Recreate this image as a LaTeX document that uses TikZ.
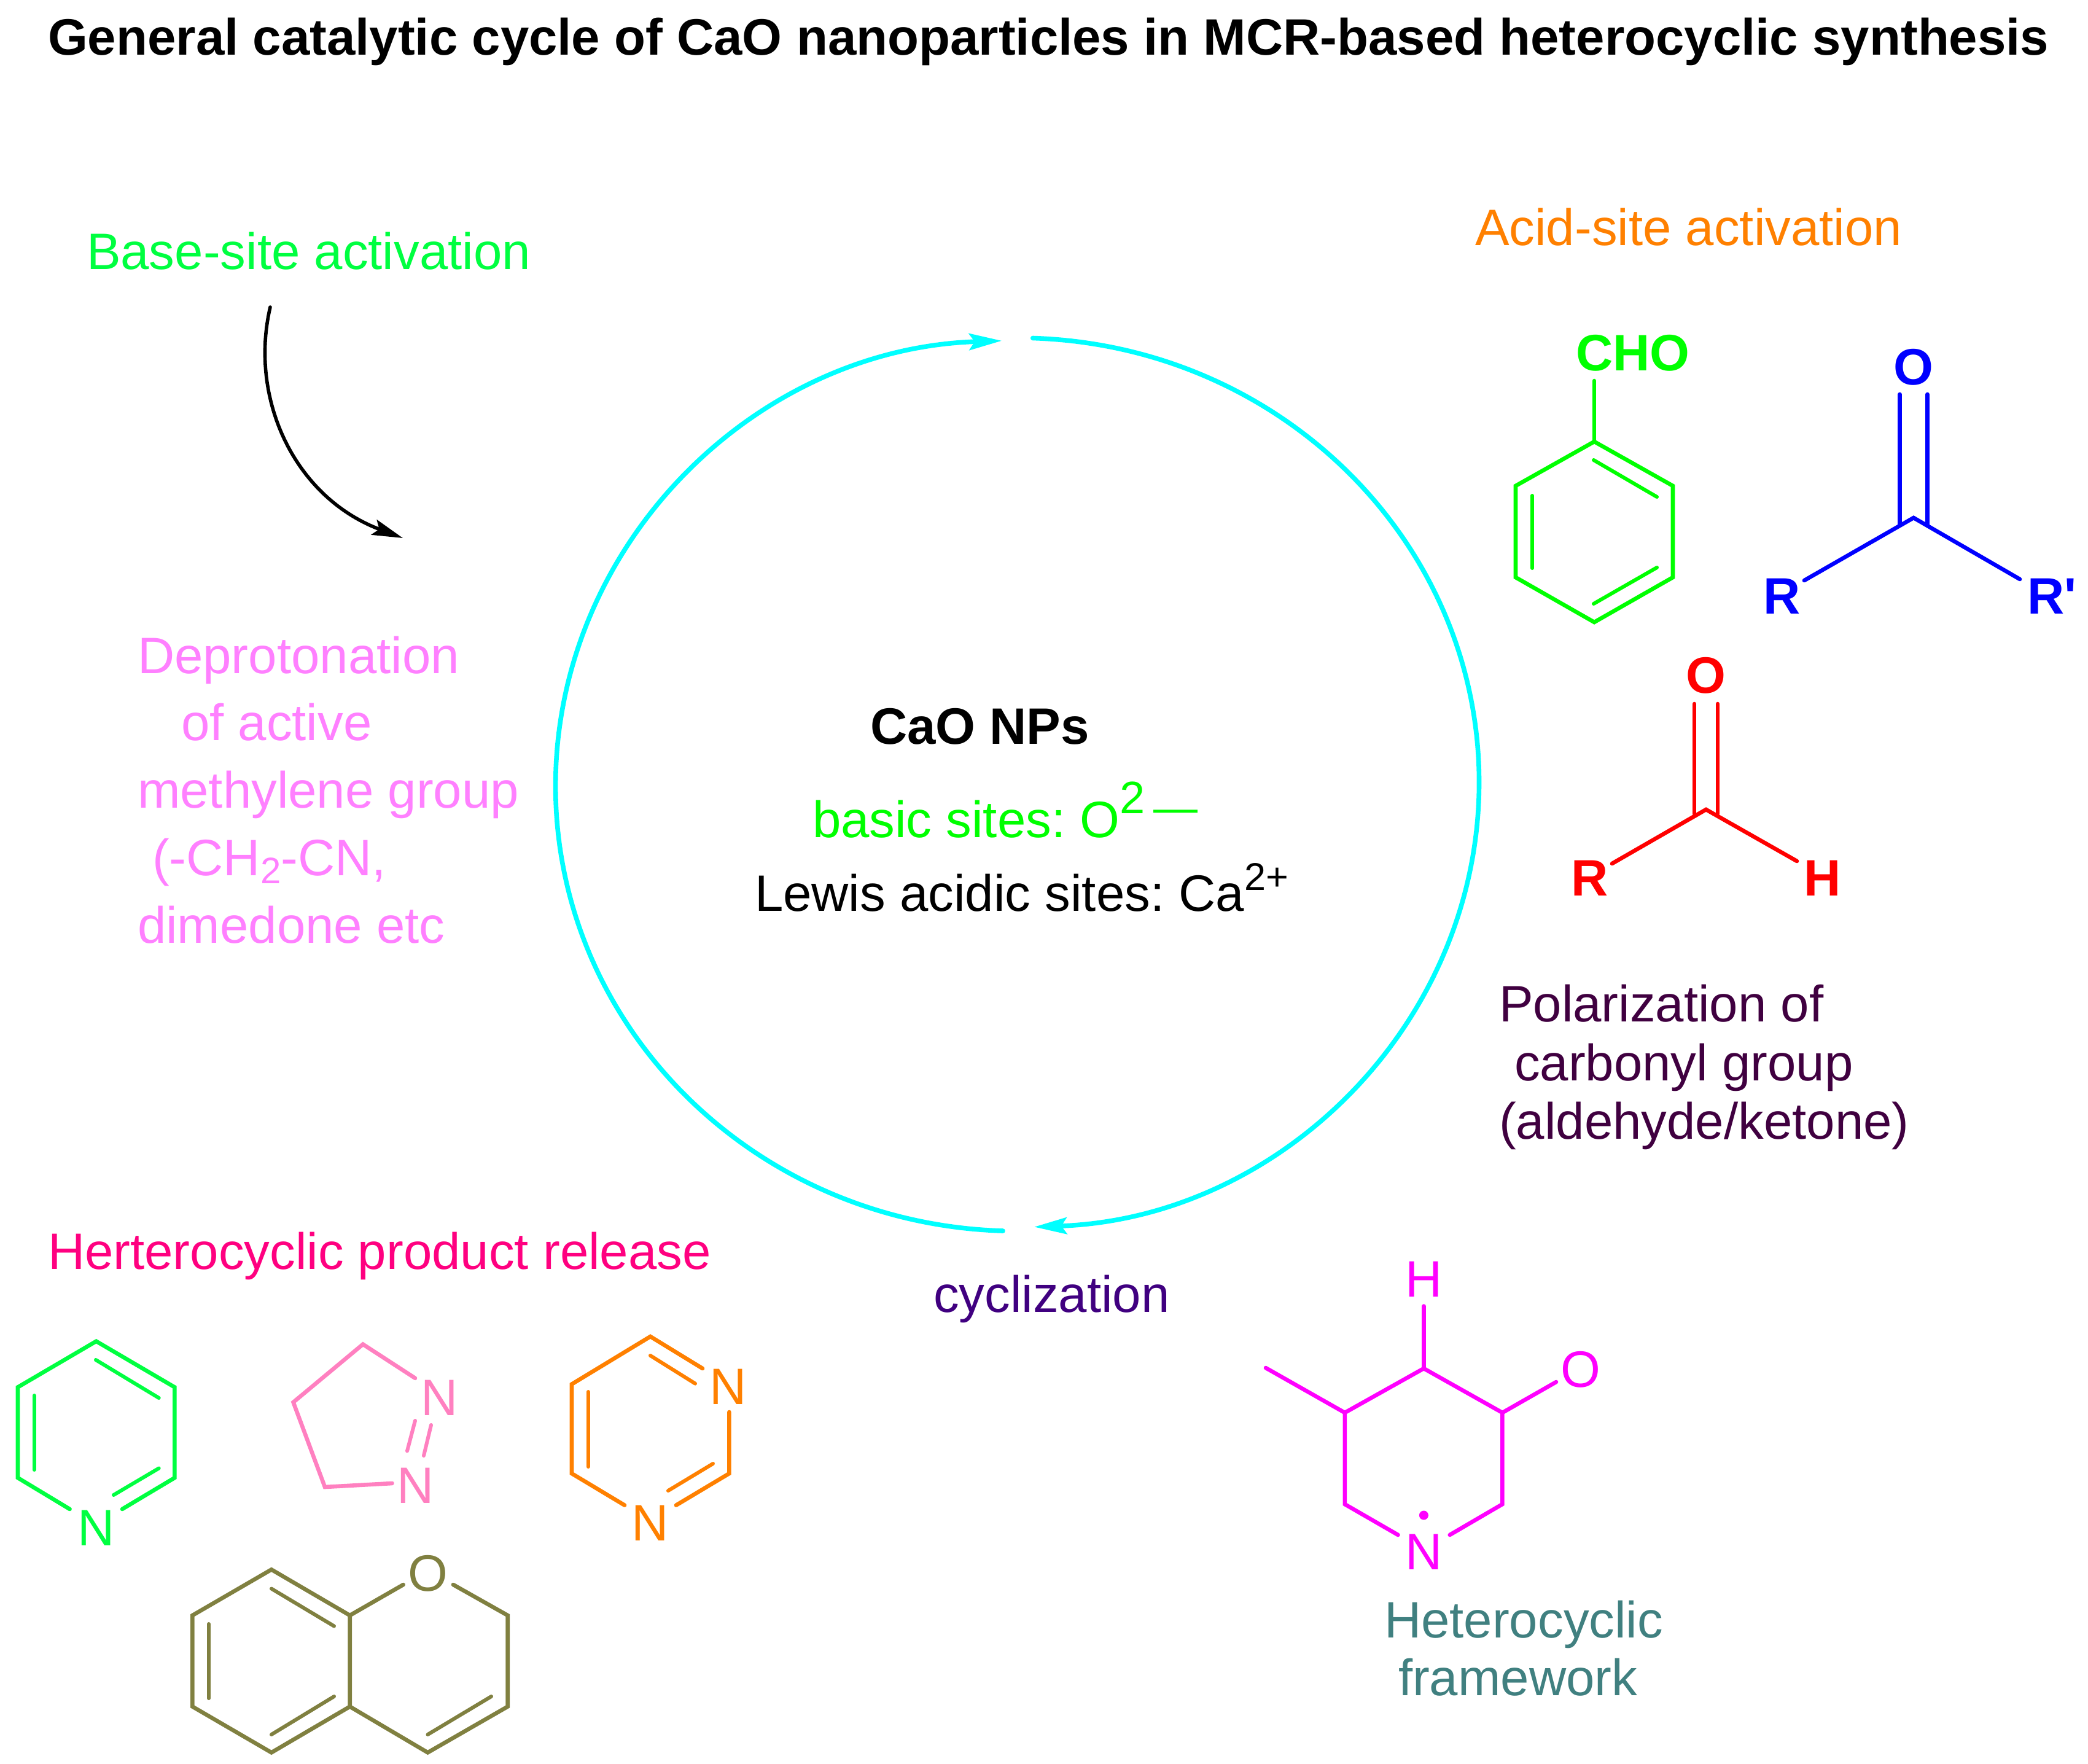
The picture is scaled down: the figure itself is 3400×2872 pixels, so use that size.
\documentclass[tikz,border=0pt]{standalone}
\usepackage{fontspec}
\setmainfont{Liberation Sans}
\newfontfamily\plainf{Liberation Sans}
\usetikzlibrary{arrows.meta}
\definecolor{cBaseG}{HTML}{00FF40}
\definecolor{cGreen}{HTML}{00FF00}
\definecolor{cOrange}{HTML}{FF8000}
\definecolor{cBlue}{HTML}{0000FF}
\definecolor{cRed}{HTML}{FF0000}
\definecolor{cPlum}{HTML}{400040}
\definecolor{cTeal}{HTML}{408080}
\definecolor{cRose}{HTML}{FF0080}
\definecolor{cIndigo}{HTML}{400080}
\definecolor{cLilac}{HTML}{FF80FF}
\definecolor{cPink}{HTML}{FF80C0}
\definecolor{cOlive}{HTML}{808040}
\definecolor{cMag}{HTML}{FF00FF}
\definecolor{cCyan}{HTML}{00FFFF}
\frenchspacing
\tikzset{
  txt/.style={inner sep=0pt,outer sep=0pt,anchor=base west,font=\fontsize{83.4}{90}\selectfont},
  ctxt/.style={txt,anchor=base},
  btxt/.style={txt,font=\fontsize{83.4}{90}\selectfont\bfseries},
  cbtxt/.style={btxt,anchor=base},
  bond/.style={line width=6.6pt,line cap=round,line join=miter},
  inner bond/.style={bond,line width=6pt},
  cyc/.style={line width=7.6pt,color=cCyan,line cap=round,-{Stealth[length=53pt,width=27pt,inset=9pt]}},
  blk/.style={line width=5.6pt,black,line cap=round,-{Stealth[length=50pt,width=26pt,inset=9pt]}}
}
\begin{document}
\begin{tikzpicture}[x=1pt,y=-1pt]
\useasboundingbox[fill=white] (0,0) rectangle (3400,2872);
% title
\node[btxt] (title) at (78,89) {General catalytic cycle of CaO nanoparticles in MCR-based heterocyclic synthesis};
% labels
\node[txt,text=cBaseG] (base) at (141,438) {Base-site activation};
\node[txt,text=cOrange] (acid) at (2402,399) {Acid-site activation};
\node[txt,text=cLilac] (dep1) at (224,1096) {Deprotonation};
\node[txt,text=cLilac] (dep2) at (295,1205) {of active};
\node[txt,text=cLilac] (dep3) at (224,1315) {methylene group};
\node[txt,text=cLilac] (dep4) at (248,1425) {(-CH\raisebox{-13pt}{\fontsize{60}{60}\selectfont 2}-CN,};
\node[txt,text=cLilac] (dep5) at (224,1535) {dimedone etc};
\node[btxt] (cao) at (1417,1211) {CaO NPs};
\node[txt,text=cGreen] (basic) at (1323,1363) {basic sites: O\raisebox{39pt}{\fontsize{74}{74}\selectfont 2}\hspace{14pt}\raisebox{24pt}{\fontsize{72}{72}\selectfont —}};
\node[txt] (lewis) at (1229,1483) {Lewis acidic sites: Ca\raisebox{34pt}{\fontsize{63}{63}\selectfont 2+}};
\node[txt,text=cPlum] (pol1) at (2441,1663) {Polarization of};
\node[txt,text=cPlum] (pol2) at (2466,1759) {carbonyl group};
\node[txt,text=cPlum] (pol3) at (2441,1854) {(aldehyde/ketone)};
\node[txt,text=cRose] (rel) at (78,2066) {Herterocyclic product release};
\node[txt,text=cIndigo] (cyz) at (1520,2136) {cyclization};
\node[txt,text=cTeal] (fw1) at (2254,2666) {Heterocyclic};
\node[txt,text=cTeal] (fw2) at (2277,2760) {framework};
% catalytic cycle
\coordinate (cbL) at (1633,2004);
\coordinate (ctR) at (1681.7,550.5);
\draw[cyc] (cbL) arc[start angle=268.2,end angle=91.94,x radius=752pt,y radius=725pt];
\draw[cyc] (ctR) arc[start angle=88.08,end angle=-87.9,x radius=752pt,y radius=724pt];
% curved arrow
\coordinate (blkS) at (440,500);
\coordinate (blkE) at (656,876);
\draw[blk] (blkS) .. controls (405,650) and (480,810) .. (blkE);
% benzaldehyde
\begin{scope}[color=cGreen]
\node[cbtxt,text=cGreen] (cho) at (2659,603) {CHO};
\draw[bond] (2596,620) -- (2596,719);
\draw[bond] (2596,719) -- (2724,791) -- (2724,940) -- (2596,1013) -- (2468,940) -- (2468,791) -- cycle;
\draw[inner bond] (2595,749) -- (2698,809);
\draw[inner bond] (2495,807) -- (2495,925);
\draw[inner bond] (2595,983) -- (2698,924);
\end{scope}
% ketone
\begin{scope}[color=cBlue]
\node[cbtxt,text=cBlue] (ko) at (3116,626) {O};
\node[btxt,text=cBlue] (kr) at (2871,999) {R};
\node[btxt,text=cBlue] (krp) at (3301,999) {R{\plainf\bfseries\symbol{39}}};
\draw[bond] (3093.5,642) -- (3093.5,855);
\draw[bond] (3138.5,642) -- (3138.5,855);
\draw[bond] (2938,945) -- (3116,843) -- (3289,943);
\end{scope}
% aldehyde
\begin{scope}[color=cRed]
\node[cbtxt,text=cRed] (ao) at (2778,1128) {O};
\node[btxt,text=cRed] (ar) at (2558,1458) {R};
\node[btxt,text=cRed] (ah) at (2937,1458) {H};
\draw[bond] (2759,1146) -- (2759,1325);
\draw[bond] (2797,1146) -- (2797,1325);
\draw[bond] (2625,1406) -- (2778,1318) -- (2926,1402);
\end{scope}
% pyridine
\begin{scope}[color=cBaseG]
\node[ctxt,text=cBaseG] (pyn) at (156.7,2516) {N};
\draw[bond] (113.6,2457) -- (29,2406) -- (29,2258.5) -- (156.7,2183.7) -- (284.4,2258.5) -- (284.4,2406) -- (199,2457);
\draw[inner bond] (55.6,2272) -- (55.6,2393);
\draw[inner bond] (156,2214) -- (258.7,2276);
\draw[inner bond] (185,2434) -- (258.7,2390.5);
\end{scope}
% pyrazoline
\begin{scope}[color=cPink]
\node[ctxt,text=cPink] (pzn1) at (716,2304) {N};
\node[ctxt,text=cPink] (pzn2) at (677,2447) {N};
\draw[bond] (676,2243.8) -- (591,2188.6) -- (477.6,2283) -- (529,2421) -- (638.5,2415);
\draw[inner bond] (676,2313) -- (663,2362.4);
\draw[inner bond] (702,2320) -- (690,2370);
\end{scope}
% pyrimidine
\begin{scope}[color=cOrange]
\node[ctxt,text=cOrange] (pmn1) at (1186,2286) {N};
\node[ctxt,text=cOrange] (pmn2) at (1059,2508) {N};
\draw[bond] (1144,2228) -- (1059,2176) -- (931,2253.6) -- (931,2399) -- (1017,2450.6);
\draw[bond] (1187.4,2299) -- (1187.4,2399) -- (1101,2450.6);
\draw[inner bond] (1059,2207) -- (1132,2252.6);
\draw[inner bond] (957.7,2266) -- (957.7,2388);
\draw[inner bond] (1161,2383) -- (1088,2427);
\end{scope}
% chromene
\begin{scope}[color=cOlive]
\node[ctxt,text=cOlive] (cro) at (696.5,2590) {O};
\draw[bond] (569.7,2630) -- (442,2555.4) -- (313.4,2630) -- (313.4,2778.5) -- (442,2853.3) -- (569.7,2778.5) -- cycle;
\draw[bond] (569.7,2630) -- (656.7,2580);
\draw[bond] (738,2580) -- (826.7,2630) -- (826.7,2778.5) -- (696.5,2853.3) -- (569.7,2778.5);
\draw[inner bond] (340,2644) -- (340,2765);
\draw[inner bond] (442,2586.5) -- (544,2647.5);
\draw[inner bond] (442,2824) -- (544,2762);
\draw[inner bond] (696.5,2824) -- (800,2762);
\end{scope}
% heterocyclic framework
\begin{scope}[color=cMag]
\node[ctxt,text=cMag] (mh) at (2318.4,2111) {H};
\node[ctxt,text=cMag] (mo) at (2574,2258) {O};
\node[ctxt,text=cMag] (mn) at (2318.4,2555) {N};
\draw[bond] (2318.4,2126.5) -- (2318.4,2228);
\draw[bond] (2276.5,2499) -- (2189.8,2449) -- (2189.8,2300) -- (2318.4,2228) -- (2446.4,2300) -- (2446.4,2449) -- (2360.7,2499);
\draw[bond] (2061,2227) -- (2189.8,2300);
\draw[bond] (2446.4,2300) -- (2534,2250);
\fill (2318.4,2467) circle[radius=7.5pt];
\end{scope}
\end{tikzpicture}
\end{document}
